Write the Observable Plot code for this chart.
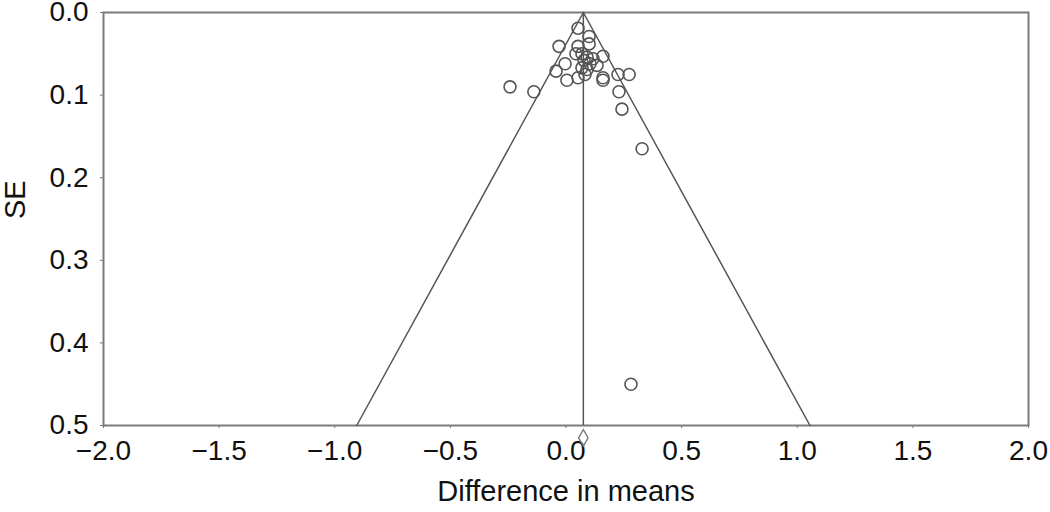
<!DOCTYPE html>
<html>
<head>
<meta charset="utf-8">
<script src="https://cdn.jsdelivr.net/npm/d3@7"></script>
<script src="https://cdn.jsdelivr.net/npm/@observablehq/plot@0.6"></script>
<style>
  html, body { margin: 0; padding: 0; background: #fff; }
  svg { font-family: "Liberation Sans", Arial, sans-serif; }
</style>
</head>
<body>
<div id="chart"></div>
<script>
// Study effects (difference in means) and their standard errors
const diffs = [0.052, 0.100, -0.030, 0.100, 0.052, 0.043, 0.069, 0.160, 0.091, -0.004,
               0.104, -0.043, 0.069, 0.091, 0.134, 0.004, 0.052, 0.082, 0.160, 0.160,
               0.225, 0.273, -0.242, -0.139, 0.229, 0.242, 0.329, 0.281, 0.078, 0.117];
const ses   = [0.019, 0.029, 0.041, 0.038, 0.041, 0.050, 0.050, 0.053, 0.054, 0.062,
               0.062, 0.071, 0.067, 0.069, 0.064, 0.082, 0.079, 0.075, 0.079, 0.082,
               0.075, 0.075, 0.090, 0.096, 0.096, 0.117, 0.165, 0.450, 0.058, 0.056];
const pooled = 0.075;          // pooled estimate
const maxSE = 0.5;
const diamondSE = 0.515;       // pooled diamond drawn just below the axis
const xTicks = [-2.0, -1.5, -1.0, -0.5, 0.0, 0.5, 1.0, 1.5, 2.0];
const yTicks = [0.0, 0.1, 0.2, 0.3, 0.4, 0.5];

const studies = diffs.map((d, i) => ({diff: d, se: ses[i]}));
const funnel = [
  [{x: pooled, y: 0}, {x: pooled - 1.96 * maxSE, y: maxSE}],
  [{x: pooled, y: 0}, {x: pooled + 1.96 * maxSE, y: maxSE}]
];
const fmt = d3.format(".1f");

const chart = Plot.plot({
  width: 1050,
  height: 512,
  marginLeft: 103,
  marginRight: 22,
  marginTop: 12,
  marginBottom: 87,
  style: {fontFamily: "Liberation Sans, Arial, sans-serif", fontSize: "28px", color: "#111", background: "#fff"},
  x: {domain: [-2, 2]},
  y: {domain: [0, 0.5], reverse: true},
  marks: [
    Plot.axisX({ticks: xTicks, tickFormat: fmt, tickSize: 3, tickPadding: 12, label: null, stroke: "#777", fontSize: 28}),
    Plot.axisY({ticks: yTicks, tickFormat: fmt, tickSize: 3, tickPadding: 12, label: null, stroke: "#777", fontSize: 28}),
    Plot.frame({stroke: "#7a7a7a", strokeWidth: 2}),
    Plot.line(funnel[0], {x: "x", y: "y", stroke: "#555", strokeWidth: 1.5}),
    Plot.line(funnel[1], {x: "x", y: "y", stroke: "#555", strokeWidth: 1.5}),
    Plot.ruleX([pooled], {y1: 0, y2: maxSE, stroke: "#555", strokeWidth: 1.5}),
    Plot.dot(studies, {x: "diff", y: "se", r: 6, stroke: "#555", strokeWidth: 1.6, fill: "none"}),
    Plot.dot([{x: pooled, y: diamondSE}], {x: "x", y: "y", symbol: "diamond", r: 5, stroke: "#777", strokeWidth: 1.3, fill: "none"}),
    Plot.text(["Difference in means"], {frameAnchor: "bottom", dy: 75, fontSize: 29, fill: "#111"}),
    Plot.text(["SE"], {frameAnchor: "left", dx: -88, rotate: -90, fontSize: 29, fill: "#111"})
  ]
});
document.getElementById("chart").appendChild(chart);
</script>
</body>
</html>
